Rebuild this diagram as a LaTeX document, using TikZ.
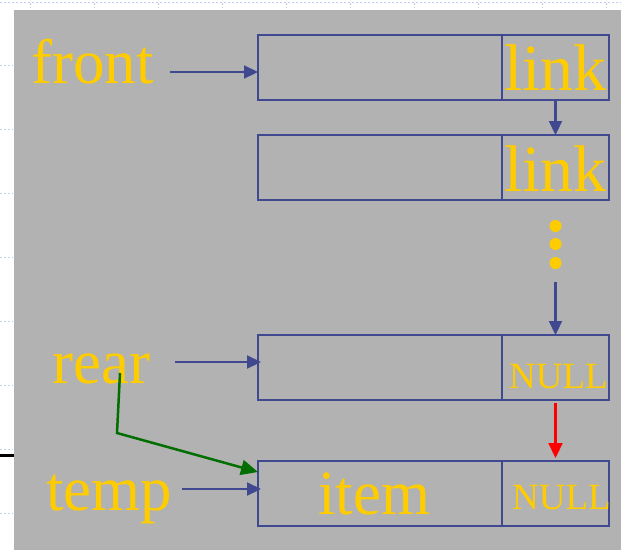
\documentclass[tikz,border=0pt]{standalone}
\usepackage{fontspec}
\setmainfont{Liberation Serif}
\usetikzlibrary{arrows.meta}
\definecolor{bgray}{RGB}{178,178,178}
\definecolor{nblue}{RGB}{64,72,144}
\definecolor{gold}{RGB}{255,204,0}
\definecolor{dgreen}{RGB}{0,110,0}
\definecolor{rulerblue}{RGB}{190,205,242}
\begin{document}
\begin{tikzpicture}[x=1pt,y=-1pt,
  cell/.style={draw=nblue, line width=1.8pt, inner sep=0pt, outer sep=0pt, anchor=north west, minimum height=65pt},
  dcell/.style={cell, minimum width=244pt},
  lcell/.style={cell, minimum width=107pt},
  big/.style={text=gold, font=\fontsize{63}{63}\selectfont, inner sep=0pt, anchor=base west},
  bigl/.style={big, font=\fontsize{66}{66}\selectfont},
  small/.style={text=gold, font=\fontsize{37}{37}\selectfont, inner sep=0pt, anchor=base west},
  barr/.style={draw=nblue, line width=2.2pt, -{Triangle[length=14pt,width=13pt]}},
  rarr/.style={draw=red, line width=2.2pt, -{Triangle[length=15pt,width=14pt]}},
  garr/.style={draw=dgreen, line width=2.5pt, -{Triangle[length=17pt,width=15pt]}},
  dotn/.style={circle, fill=gold, inner sep=0pt, minimum size=12pt},
  ruler/.style={draw=rulerblue, line width=1pt, dash pattern=on 2pt off 2pt}
]
\useasboundingbox (0,0) rectangle (621,550);
\fill[white] (0,0) rectangle (621,550);
\fill[bgray] (14,10) rectangle (621,550);
% ruler decorations
\draw[ruler] (0,2) -- (621,2);
\foreach \x in {30,94,158,222,286,350,414,478,542,606} \draw[ruler] (\x,3) -- (\x,8);
\foreach \y in {65,129,193,257,321,385,449,513} \draw[ruler] (0,\y) -- (13,\y);
\draw[black, line width=3pt] (0,455) -- (14,455);

% boxes
\node[dcell] (d1) at (258,35) {};
\node[lcell] (l1) at (502,35) {};
\node[dcell] (d2) at (258,135) {};
\node[lcell] (l2) at (502,135) {};
\node[dcell] (d3) at (258,335) {};
\node[lcell] (l3) at (502,335) {};
\node[dcell] (d4) at (258,461) {};
\node[lcell] (l4) at (502,461) {};

% texts
\node[big] (front) at (31,83) {front};
\node[bigl] (link1) at (504,90) {link};
\node[bigl] (link2) at (504,191) {link};
\node[big] (rear) at (52,383) {rear};
\node[big] (temp) at (46,510) {temp};
\node[big] (item) at (318,514) {item};
\node[small] (null3) at (509,388) {NULL};
\node[small] (null4) at (512,509) {NULL};

% dots
\node[dotn] (dot1) at (555.5,226) {};
\node[dotn] (dot2) at (555.5,244) {};
\node[dotn] (dot3) at (555.5,263) {};

% connectors
\coordinate (fs) at (170,72);
\draw[barr] (fs) -- (d1.west |- fs);
\draw[barr] (l1.south) -- (l2.north);
\coordinate (ds) at (555.5,282);
\draw[barr] (ds) -- (ds |- l3.north);
\coordinate (rs) at (175,362);
\draw[barr] (rs) -- ([xshift=3pt]d3.west |- rs);
\draw[rarr, shorten <=3pt, shorten >=3pt] (l3.south) -- (l4.north);
\coordinate (ts) at (182,489);
\draw[barr] (ts) -- ([xshift=3pt]d4.west |- ts);
\coordinate (gs) at (120,373);
\coordinate (gb) at (117,433);
\draw[garr] (gs) -- (gb) -- ([yshift=-11pt]d4.north west);
\end{tikzpicture}
\end{document}
